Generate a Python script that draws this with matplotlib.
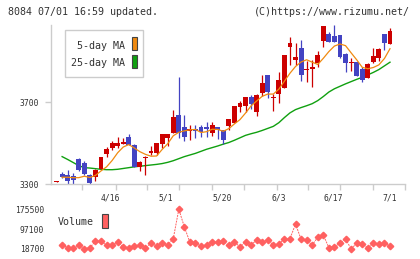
import matplotlib
matplotlib.use("Agg")
import matplotlib.pyplot as plt
from matplotlib.patches import Rectangle
import numpy as np

# daily candles (oldest -> newest)
opens = [3312, 3347, 3344, 3341, 3422, 3403, 3344, 3336, 3373, 3447,
         3478, 3486, 3496, 3532, 3491, 3385, 3428, 3450, 3450, 3496,
         3527, 3548, 3638, 3579, 3559, 3568, 3577, 3577, 3551, 3577,
         3564, 3584, 3600, 3675, 3682, 3724, 3654, 3747, 3834, 3722,
         3741, 3768, 3972, 3907, 3964, 3859, 3861, 3891, 4002, 4034,
         4025, 4029, 3936, 3894, 3897, 3861, 3817, 3899, 3915, 4034, 3985]
highs = [3314, 3357, 3369, 3352, 3427, 3413, 3349, 3372, 3432, 3483,
         3510, 3528, 3527, 3545, 3495, 3412, 3437, 3486, 3499, 3545,
         3545, 3662, 3824, 3638, 3589, 3589, 3589, 3605, 3605, 3577,
         3564, 3618, 3682, 3708, 3727, 3734, 3741, 3834, 3834, 3741,
         3850, 3932, 4018, 3992, 4005, 3904, 3907, 3951, 4074, 4046,
         4078, 4029, 3943, 3915, 3897, 3874, 3891, 3964, 3964, 4034, 4062]
lows = [3312, 3328, 3300, 3298, 3364, 3344, 3300, 3316, 3373, 3434,
        3466, 3478, 3494, 3491, 3382, 3365, 3342, 3442, 3442, 3478,
        3486, 3548, 3524, 3510, 3515, 3524, 3532, 3532, 3535, 3519,
        3496, 3564, 3600, 3654, 3654, 3666, 3633, 3731, 3719, 3659,
        3698, 3768, 3883, 3883, 3804, 3801, 3777, 3874, 3972, 3997,
        3997, 3915, 3850, 3855, 3830, 3801, 3817, 3891, 3904, 3956, 3985]
closes = [3314, 3336, 3316, 3321, 3369, 3347, 3306, 3367, 3432, 3470,
          3499, 3499, 3506, 3491, 3385, 3409, 3432, 3462, 3499, 3545,
          3545, 3630, 3548, 3532, 3568, 3558, 3556, 3568, 3589, 3564,
          3515, 3618, 3682, 3695, 3725, 3692, 3736, 3796, 3752, 3726,
          3809, 3932, 3989, 3920, 3834, 3863, 3874, 3932, 4074, 3997,
          3997, 3923, 3894, 3898, 3830, 3809, 3888, 3927, 3959, 3989, 4049]

ma5 = [np.nan, 3333, 3333, 3331, 3331, 3338, 3332, 3342, 3364, 3384,
       3415, 3453, 3481, 3493, 3476, 3458, 3445, 3436, 3437, 3469,
       3497, 3536, 3553, 3560, 3565, 3567, 3552, 3556, 3568, 3567,
       3558, 3571, 3594, 3615, 3647, 3682, 3706, 3729, 3740, 3740,
       3764, 3803, 3842, 3875, 3897, 3908, 3896, 3885, 3915, 3948,
       3975, 3985, 3977, 3942, 3908, 3871, 3864, 3870, 3883, 3914, 3962]
ma25 = [np.nan, 3434, 3420, 3405, 3390, 3380, 3378, 3375, 3372, 3370,
        3370, 3372, 3376, 3380, 3384, 3387, 3390, 3393, 3396, 3400,
        3406, 3414, 3424, 3434, 3442, 3450, 3460, 3470, 3478, 3486,
        3495, 3503, 3514, 3526, 3538, 3546, 3553, 3562, 3572, 3582,
        3600, 3625, 3648, 3664, 3674, 3683, 3693, 3708, 3728, 3750,
        3766, 3778, 3790, 3801, 3812, 3822, 3834, 3846, 3860, 3878, 3896]

# volume starts at the 2nd candle
volume = [34500, 24000, 24000, 34500, 20000, 24000, 49000, 49000, 34500, 34500,
          45000, 27800, 24000, 30500, 34500, 24000, 41200, 30500, 41200, 34500,
          59400, 175500, 105600, 45000, 41200, 30500, 34500, 45000, 45000, 49000,
          33300, 45000, 27800, 45000, 34500, 54300, 45000, 54300, 34500, 37300,
          59400, 59400, 117400, 57000, 54300, 34500, 64900, 74000, 24000, 27800,
          41200, 59400, 18700, 41200, 37300, 24000, 41200, 37300, 41200, 30500]

date_labels = ["4/16", "5/1", "5/20", "6/3", "6/17", "7/1"]
date_pos = [9.6, 19.7, 29.9, 40, 49.8, 59.9]
grid_pos = [4.64, 10.65, 16.2, 22.1, 27.9, 33.8, 39.6, 45.3, 51.0, 57.0, 62.7]
price_ticks = [3300, 3700]
vol_ticks = [18700, 97100, 175500]

RED = "#cc0000"
BLUE = "#4343c2"
ORANGE = "#f08a10"
GREEN = "#10a010"
VOLC = "#ff6060"
GREY = "#cccccc"
TXT = "#333333"

plt.rcParams["font.family"] = "DejaVu Sans Mono"

W, H = 420, 259
fig = plt.figure(figsize=(W / 100, H / 100), dpi=100)


def fx(x):
    return x / W


def fy(y):
    return 1 - y / H


ax = fig.add_axes([fx(51), fy(184), 354 / W, 159 / H])
x = np.arange(len(closes))
for i in x:
    o, h, l, c = opens[i], highs[i], lows[i], closes[i]
    col = RED if c >= o else BLUE
    ax.vlines(i, l, h, color=col, lw=0.9, zorder=2)
    ax.bar(i, max(abs(c - o), 4), bottom=min(o, c), width=0.88, color=col,
           linewidth=0, zorder=3)

ax.plot(x, ma5, color=ORANGE, lw=0.9, zorder=4)
ax.plot(x, ma25, color=GREEN, lw=1.0, zorder=1)

ax.set_xlim(-1, 62.7)
ax.set_ylim(3300, 4078)
for s in ["top", "right"]:
    ax.spines[s].set_visible(False)
for s in ["left", "bottom"]:
    ax.spines[s].set_color(GREY)
    ax.spines[s].set_linewidth(1)
ax.set_yticks(price_ticks)
ax.set_yticklabels([str(t) for t in price_ticks])
ax.tick_params(axis="y", length=4.3, width=1, color=GREY, labelsize=5.8,
               labelcolor=TXT, pad=4.3)
ax.set_xticks(grid_pos)
ax.set_xticklabels([])
ax.tick_params(axis="x", length=4.3, width=1, color=GREY)
for lab, p in zip(date_labels, date_pos):
    ax.text(p, -0.085, lab, transform=ax.get_xaxis_transform(), ha="center",
            va="center", fontsize=5.8, color=TXT)

# MA legend
fig.add_artist(Rectangle((fx(65), fy(77)), 78 / W, 47 / H, transform=fig.transFigure,
                         facecolor="white", edgecolor=GREY, lw=1, zorder=5))
fig.text(fx(125), fy(46), "5-day MA", ha="right", va="center", fontsize=7.2,
         color=TXT, zorder=6)
fig.text(fx(125), fy(63), "25-day MA", ha="right", va="center", fontsize=7.2,
         color=TXT, zorder=6)
fig.add_artist(Rectangle((fx(131.5), fy(50.5)), 5 / W, 13 / H, transform=fig.transFigure,
                         facecolor=ORANGE, edgecolor="#444444", lw=0.8, zorder=6))
fig.add_artist(Rectangle((fx(131.5), fy(68)), 5 / W, 13 / H, transform=fig.transFigure,
                         facecolor=GREEN, edgecolor="#444444", lw=0.8, zorder=6))

# volume panel
vax = fig.add_axes([fx(51), fy(255), 354 / W, 55 / H])
vax.patch.set_visible(False)
vx = np.arange(1, len(volume) + 1)
vax.plot(vx, volume, color=VOLC, lw=0.7, ls=(0, (2, 1)), marker="D", ms=3.3,
         mec=VOLC, mfc=VOLC)
vax.set_xlim(-1, 62.7)
vax.set_ylim(-5000, 212250)
for s in vax.spines.values():
    s.set_visible(False)
vax.set_xticks([])
vax.set_yticks(vol_ticks)
vax.set_yticklabels([str(t) for t in vol_ticks])
vax.tick_params(axis="y", length=0, labelsize=5.8, labelcolor=TXT, pad=5)

fig.text(fx(58), fy(222), "Volume", ha="left", va="center", fontsize=7.2, color=TXT)
fig.add_artist(Rectangle((fx(101.7), fy(228)), 6 / W, 14.5 / H, transform=fig.transFigure,
                         facecolor=VOLC, edgecolor="#444444", lw=0.8))

fig.text(fx(8), fy(12), "8084 07/01 16:59 updated.", ha="left", va="center",
         fontsize=7.2, color=TXT)
fig.text(fx(410), fy(12), "(C)https://www.rizumu.net/", ha="right", va="center",
         fontsize=7.2, color=TXT)

fig.savefig("out.png", dpi=100)
